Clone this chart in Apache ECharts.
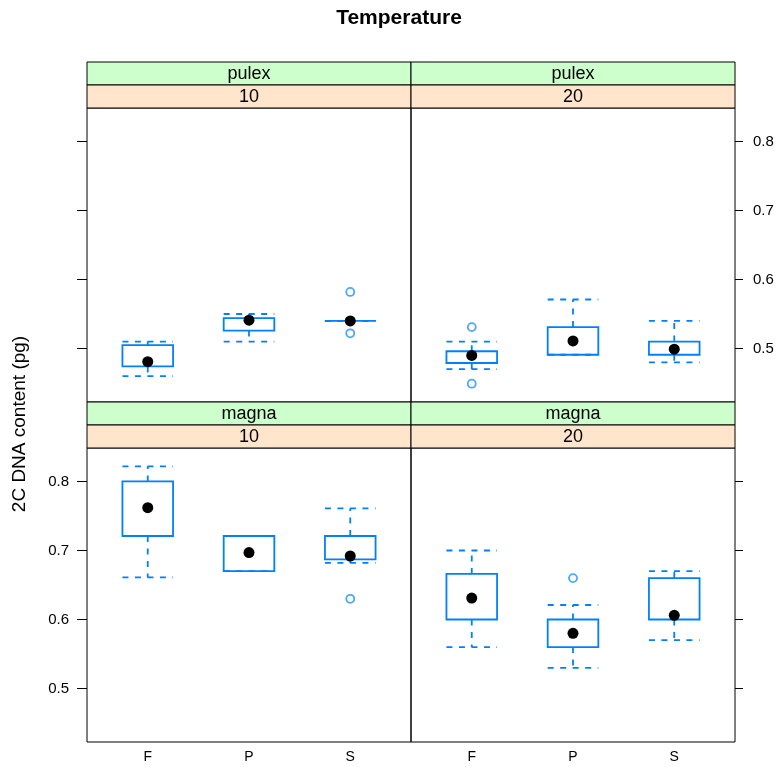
<!DOCTYPE html>
<html>
<head>
<meta charset="utf-8">
<script src="https://cdn.jsdelivr.net/npm/echarts@6/dist/echarts.min.js"></script>
<style>html,body{margin:0;padding:0;background:#fff}#c{width:779px;height:767px}</style>
</head>
<body>
<div id="c"></div>
<script>
// ---- data ----
const categories = ['F', 'P', 'S'];
const yTicks = [0.5, 0.6, 0.7, 0.8];
const titleText = 'Temperature';
const yLabelText = '2C DNA content (pg)';
const speciesLevels = ['pulex', 'pulex', 'magna', 'magna'];
const tempLevels = ['10', '20', '10', '20'];
// box stats per category: [lower whisker, Q1, median, Q3, upper whisker]
const pulex10Stats = [[0.46, 0.474, 0.481, 0.505, 0.51], [0.51, 0.526, 0.541, 0.544, 0.55], [0.54, 0.54, 0.54, 0.54, 0.54]];
const pulex10Out = [[3, 0.582], [3, 0.522]];
const pulex20Stats = [[0.47, 0.479, 0.49, 0.496, 0.51], [0.491, 0.491, 0.511, 0.531, 0.571], [0.48, 0.491, 0.499, 0.51, 0.54]];
const pulex20Out = [[1, 0.531], [1, 0.449]];
const magna10Stats = [[0.661, 0.721, 0.762, 0.80, 0.822], [0.67, 0.67, 0.697, 0.721, 0.721], [0.682, 0.687, 0.692, 0.721, 0.761]];
const magna10Out = [[3, 0.63]];
const magna20Stats = [[0.56, 0.60, 0.631, 0.666, 0.70], [0.53, 0.56, 0.58, 0.60, 0.621], [0.57, 0.60, 0.606, 0.66, 0.67]];
const magna20Out = [[2, 0.66]];

// ---- layout / style ----
const BLUE = '#0080ff';
const FONT = 'Liberation Sans, Arial, sans-serif';
const PL = 87, PM = 411, PW = 324, PH = 294;
const STRIP = 23;
const TOP1 = 62, TOP2 = 402; // top of strips
const Y_MIN = 0.4225, Y_MAX = 0.8485;

const panelStats = [pulex10Stats, pulex20Stats, magna10Stats, magna20Stats];
const panelOut = [pulex10Out, pulex20Out, magna10Out, magna20Out];
const panelLeft = [PL, PM, PL, PM];
const panelTop = [TOP1 + 2 * STRIP, TOP1 + 2 * STRIP, TOP2 + 2 * STRIP, TOP2 + 2 * STRIP];

const grids = [], xAxes = [], yAxes = [], series = [], graphics = [];
for (let i = 0; i < 4; i++) {
  grids.push({left: panelLeft[i], top: panelTop[i], width: PW, height: PH,
    show: true, borderColor: '#000', borderWidth: 1, backgroundColor: 'transparent'});
  const bottom = i >= 2;
  xAxes.push({type: 'value', gridIndex: i, min: 0.4, max: 3.6,
    axisLine: {show: false, onZero: false}, axisTick: {show: false}, splitLine: {show: false},
    axisLabel: {show: bottom, customValues: [1, 2, 3], formatter: v => categories[Math.round(v) - 1] || '',
      color: '#000', fontSize: 14, fontFamily: FONT, margin: 8}});
  const right = (i % 2 === 1);
  const showLab = (i === 1 || i === 2);
  yAxes.push({type: 'value', gridIndex: i, min: Y_MIN, max: Y_MAX, position: right ? 'right' : 'left',
    axisLine: {show: false, onZero: false}, splitLine: {show: false},
    axisTick: {show: true, customValues: yTicks, length: right ? 8 : 10, lineStyle: {color: '#000', width: 1}},
    axisLabel: {show: showLab, customValues: yTicks, formatter: v => v.toFixed(1),
      color: '#000', fontSize: 15, fontFamily: FONT, margin: right ? 18 : 18}});

  const boxData = panelStats[i].map((s, k) => [k + 1].concat(s));
  series.push({type: 'custom', xAxisIndex: i, yAxisIndex: i, data: boxData,
    encode: {x: 0, y: [1, 2, 3, 4, 5]}, silent: true, clip: false,
    renderItem: function (params, api) {
      const x = api.value(0), lo = api.value(1), q1 = api.value(2), q3 = api.value(4), hi = api.value(5);
      const hw = 0.25;
      const dash = {stroke: BLUE, lineWidth: 1.8, lineDash: [6, 6.5], fill: null};
      const solid = {stroke: BLUE, lineWidth: 1.8, fill: null};
      const a = api.coord([x - hw, q3]), b = api.coord([x + hw, q1]);
      const cq3 = api.coord([x, q3]), chi = api.coord([x, hi]);
      const cq1 = api.coord([x, q1]), clo = api.coord([x, lo]);
      const hiL = api.coord([x - hw, hi]), hiR = api.coord([x + hw, hi]);
      const loL = api.coord([x - hw, lo]), loR = api.coord([x + hw, lo]);
      return {type: 'group', children: [
        {type: 'line', shape: {x1: cq3[0], y1: cq3[1], x2: chi[0], y2: chi[1]}, style: dash},
        {type: 'line', shape: {x1: hiL[0], y1: hiL[1], x2: hiR[0], y2: hiR[1]}, style: dash},
        {type: 'line', shape: {x1: cq1[0], y1: cq1[1], x2: clo[0], y2: clo[1]}, style: dash},
        {type: 'line', shape: {x1: loL[0], y1: loL[1], x2: loR[0], y2: loR[1]}, style: dash},
        {type: 'rect', shape: {x: a[0], y: a[1], width: b[0] - a[0], height: b[1] - a[1]}, style: solid}
      ]};
    }});
  series.push({type: 'scatter', xAxisIndex: i, yAxisIndex: i, silent: true,
    data: panelOut[i], symbol: 'circle', symbolSize: 8,
    itemStyle: {color: '#fff', borderColor: '#4da6ff', borderWidth: 1.8, opacity: 1}});
  series.push({type: 'scatter', xAxisIndex: i, yAxisIndex: i, silent: true, z: 5,
    data: panelStats[i].map((s, k) => [k + 1, s[2]]), symbol: 'circle', symbolSize: 11,
    itemStyle: {color: '#000', opacity: 1}});

  // strips
  const sx = panelLeft[i], sy = (i < 2 ? TOP1 : TOP2);
  graphics.push({type: 'rect', shape: {x: sx, y: sy, width: PW, height: STRIP},
    style: {fill: '#ccffcc', stroke: '#000', lineWidth: 1}});
  graphics.push({type: 'rect', shape: {x: sx, y: sy + STRIP, width: PW, height: STRIP},
    style: {fill: '#ffe5cc', stroke: '#000', lineWidth: 1}});
  graphics.push({type: 'text', x: sx + PW / 2, y: sy + STRIP / 2 + 1,
    style: {text: speciesLevels[i], fill: '#000', font: '18px ' + FONT, textAlign: 'center', textVerticalAlign: 'middle'}});
  graphics.push({type: 'text', x: sx + PW / 2, y: sy + STRIP * 1.5 + 1,
    style: {text: tempLevels[i], fill: '#000', font: '18px ' + FONT, textAlign: 'center', textVerticalAlign: 'middle'}});
}
graphics.push({type: 'text', x: 399, y: 18,
  style: {text: titleText, fill: '#000', font: 'bold 21px ' + FONT, textAlign: 'center', textVerticalAlign: 'middle'}});
graphics.push({type: 'text', x: 20, y: 424, rotation: Math.PI / 2,
  style: {text: yLabelText, fill: '#000', font: '19px ' + FONT, textAlign: 'center', textVerticalAlign: 'middle'}});

const chart = echarts.init(document.getElementById('c'), null, {renderer: 'canvas'});
chart.setOption({animation: false, backgroundColor: '#fff',
  grid: grids, xAxis: xAxes, yAxis: yAxes, series: series, graphic: graphics});
</script>
</body>
</html>
